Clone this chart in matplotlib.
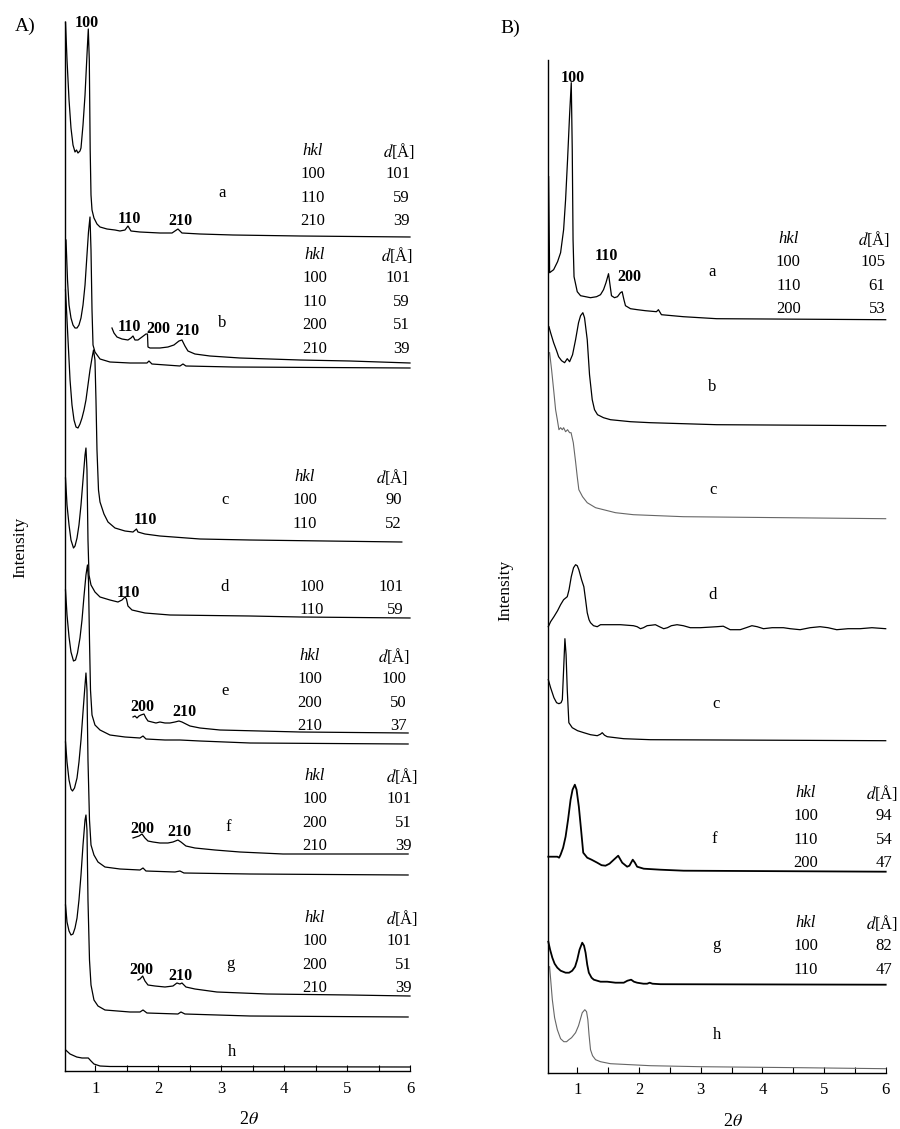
import matplotlib.pyplot as plt
from matplotlib.ticker import MultipleLocator

plt.rcParams['font.family'] = ['Liberation Serif', 'DejaVu Serif']
plt.rcParams['mathtext.fontset'] = 'stix'

# ---------------- Panel A : 2theta (deg) / intensity above baseline (a.u.)
tth_A_a = [0.528, 0.552, 0.584, 0.615, 0.647, 0.679, 0.703, 0.726, 0.758, 0.774, 0.806, 0.838,
           0.869, 0.89, 0.906, 0.92, 0.933, 0.949, 0.98, 1.028, 1.076, 1.187, 1.314, 1.393,
           1.473, 1.52, 1.568, 1.71, 2.028, 2.22, 2.314, 2.378, 2.664, 3.188, 4.252, 6.0]
int_A_a = [215, 177, 137, 109, 92, 85, 87, 84, 86, 89, 112, 142,
           182, 208, 177, 87, 42, 27, 19, 13, 10, 8, 7, 6,
           7, 11, 6, 5, 4, 4, 8, 4, 3, 2, 1, 0]

tth_A_b = [0.536, 0.56, 0.584, 0.615, 0.647, 0.679, 0.711, 0.742, 0.774, 0.806, 0.838, 0.869,
           0.893, 0.917, 0.933, 0.949, 0.965, 0.996, 1.076, 1.234, 1.552, 1.822, 1.854, 1.901,
           2.346, 2.394, 2.441, 3.188, 6.0]
int_A_b = [128, 88, 63, 50, 43, 40, 40, 43, 50, 63, 83, 113,
           136, 151, 118, 58, 23, 16, 9, 6, 5, 5, 7, 4,
           2, 4, 2, 1, 0]

# magnified high-angle part of b
tth_A_b2 = [1.266, 1.298, 1.346, 1.425, 1.52, 1.568, 1.6, 1.631, 1.679, 1.743, 1.806, 1.83,
            1.838, 1.87, 2.028, 2.155, 2.25, 2.33, 2.378, 2.425, 2.473, 2.584, 2.822, 3.299,
            4.252, 5.046, 6.0]
int_A_b2 = [35, 30, 26, 24, 23, 25, 27, 23, 23, 26, 29, 29,
            16, 15, 15, 16, 18, 22, 23, 17, 12, 9, 7, 5,
            3, 2, 0]

tth_A_c = [0.528, 0.552, 0.576, 0.6, 0.631, 0.663, 0.695, 0.726, 0.758, 0.79, 0.822, 0.853,
           0.885, 0.917, 0.949, 0.973, 0.996, 1.012, 1.028, 1.052, 1.076, 1.139, 1.203, 1.314,
           1.473, 1.6, 1.655, 1.679, 1.79, 2.028, 2.664, 3.458, 5.87]
int_A_c = [252, 222, 192, 162, 137, 122, 115, 114, 118, 124, 132, 142,
           157, 172, 184, 192, 182, 142, 92, 52, 40, 28, 20, 14,
           11, 10, 13, 10, 8, 6, 3, 2, 0]

tth_A_d = [0.528, 0.552, 0.584, 0.615, 0.655, 0.679, 0.711, 0.742, 0.774, 0.806, 0.838, 0.853,
           0.869, 0.885, 0.901, 0.933, 0.996, 1.076, 1.234, 1.361, 1.425, 1.473, 1.496, 1.52,
           1.584, 1.79, 2.187, 3.458, 4.252, 6.0]
int_A_d = [140, 113, 93, 78, 70, 72, 80, 93, 113, 138, 163, 170,
           148, 78, 43, 33, 26, 21, 18, 16, 18, 21, 19, 12,
           8, 5, 3, 2, 1, 0]

tth_A_e = [0.528, 0.552, 0.584, 0.615, 0.655, 0.687, 0.718, 0.758, 0.79, 0.822, 0.853, 0.877,
           0.893, 0.909, 0.925, 0.949, 0.996, 1.076, 1.234, 1.473, 1.711, 1.759, 1.806, 2.108,
           2.346, 2.664, 3.458, 5.97]
int_A_e = [154, 129, 107, 92, 83, 84, 91, 106, 124, 148, 169, 179,
           164, 104, 54, 29, 19, 14, 9, 7, 6, 8, 5, 4,
           4, 3, 1, 0]

tth_A_e2 = [1.6, 1.631, 1.663, 1.695, 1.727, 1.774, 1.806, 1.838, 1.901, 1.965, 2.028, 2.108,
            2.187, 2.267, 2.33, 2.378, 2.441, 2.505, 2.664, 2.981, 3.617, 4.252, 5.97]
int_A_e2 = [16, 17, 15, 17, 18, 19, 15, 12, 11, 10, 11, 10,
            10, 11, 12, 11, 9, 7, 5, 3, 2, 1, 0]

tth_A_f = [0.528, 0.552, 0.584, 0.615, 0.639, 0.671, 0.711, 0.742, 0.774, 0.806, 0.838, 0.853,
           0.869, 0.885, 0.909, 0.933, 0.98, 1.044, 1.155, 1.393, 1.711, 1.759, 1.806, 2.267,
           2.346, 2.409, 3.458, 5.97]
int_A_f = [133, 113, 95, 86, 84, 87, 97, 113, 135, 163, 190, 202,
           185, 115, 55, 30, 20, 13, 8, 6, 5, 7, 4, 3,
           4, 2, 1, 0]

tth_A_f2 = [1.6, 1.647, 1.695, 1.743, 1.79, 1.838, 1.917, 2.028, 2.155, 2.235, 2.314, 2.362,
            2.441, 2.584, 2.902, 3.299, 3.982, 5.97]
int_A_f2 = [16, 17, 18, 20, 16, 13, 12, 11, 11, 12, 14, 12,
            8, 6, 4, 2, 0, 0]

tth_A_g = [0.528, 0.552, 0.584, 0.615, 0.647, 0.679, 0.711, 0.742, 0.774, 0.806, 0.838, 0.853,
           0.869, 0.885, 0.909, 0.933, 0.98, 1.044, 1.155, 1.552, 1.711, 1.759, 1.822, 2.314,
           2.362, 2.425, 3.458, 5.97]
int_A_g = [112, 95, 86, 82, 83, 89, 99, 117, 142, 172, 197, 202,
           187, 117, 57, 32, 17, 11, 7, 5, 5, 7, 4, 3,
           5, 3, 1, 0]

tth_A_g2 = [1.679, 1.711, 1.754, 1.79, 1.838, 1.949, 2.108, 2.235, 2.298, 2.346, 2.378, 2.441,
            2.584, 2.933, 3.727, 5.046, 6.0]
int_A_g2 = [16, 17, 20, 15, 11, 10, 9, 10, 13, 12, 13, 9,
            7, 4, 2, 1, 0]

tth_A_h = [0.531, 0.6, 0.706, 0.79, 0.89, 0.933, 0.98, 1.076, 1.234, 6.0]
int_A_h = [17, 13, 10, 9, 9, 6, 3, 1, 0.5, 0]

# stacking offsets, panel A: a, b, b (x-mag), c, d, e, e (x-mag), f, f (x-mag), g, g (x-mag), h
offsets_A = [834, 703, 708, 529, 453, 327, 338, 196, 217, 54, 75, 4]

# ---------------- Panel B
tth_B_a = [0.535, 0.551, 0.616, 0.68, 0.729, 0.778, 0.81, 0.842, 0.875, 0.902, 0.918, 0.931,
           0.947, 0.999, 1.053, 1.134, 1.214, 1.312, 1.376, 1.425, 1.465, 1.506, 1.53, 1.554,
           1.603, 1.651, 1.7, 1.727, 1.756, 1.781, 1.862, 1.975, 2.104, 2.283, 2.315, 2.364,
           2.72, 3.26, 6.0]
int_B_a = [143, 47, 50, 58, 67, 90, 120, 160, 205, 237, 170, 80,
           43, 28, 24, 23, 22, 23, 25, 30, 37, 46, 35, 24,
           22, 23, 27, 28, 20, 14, 11, 10, 9, 8, 10, 5,
           3, 1, 0]

tth_B_b = [0.54, 0.567, 0.616, 0.664, 0.697, 0.745, 0.794, 0.837, 0.875, 0.923, 0.972, 1.02,
           1.053, 1.09, 1.117, 1.161, 1.198, 1.242, 1.279, 1.328, 1.425, 1.538, 1.862, 2.186,
           3.26, 6.0]
int_B_b = [99, 93, 83, 75, 69, 65, 63, 67, 64, 71, 86, 103,
           110, 113, 108, 86, 51, 26, 16, 11, 8, 6, 4, 3,
           1, 0]

tth_B_c = [0.551, 0.583, 0.621, 0.648, 0.676, 0.702, 0.729, 0.757, 0.778, 0.81, 0.842, 0.875,
           0.899, 0.935, 0.972, 0.999, 1.025, 1.085, 1.161, 1.296, 1.425, 1.619, 1.91, 2.719, 6.0]
int_B_c = [166, 149, 126, 109, 99, 89, 91, 89, 91, 87, 89, 86,
           86, 76, 57, 42, 29, 22, 16, 11, 9, 6, 4, 2, 0]

tth_B_d = [0.53, 0.567, 0.621, 0.68, 0.729, 0.778, 0.837, 0.866, 0.902, 0.939, 0.972, 0.999,
           1.025, 1.069, 1.106, 1.134, 1.161, 1.19, 1.214, 1.263, 1.323, 1.376, 1.425, 1.7,
           1.91, 1.97, 2.024, 2.072, 2.132, 2.202, 2.266, 2.331, 2.401, 2.461, 2.525, 2.617,
           2.719, 2.832, 2.994, 3.264, 3.366, 3.479, 3.641, 3.738, 3.831, 3.916, 4.018, 4.159,
           4.342, 4.451, 4.612, 4.774, 4.936, 5.065, 5.206, 5.389, 5.583, 5.777, 6.0]
int_B_d = [2, 7, 12, 18, 24, 29, 32, 39, 52, 61, 64, 63,
           59, 49, 42, 29, 16, 9, 6, 3, 2, 4, 4, 4,
           3, 2, 0, 1, 3, 3.5, 4, 2, 0, 1, 3, 4,
           3, 1, 1, 2, 2.5, -1, -1, 1, 3, 2, 0, 1,
           1, 0, -1, 1, 2, 1, -1, 0, 0, 1, 0]

tth_B_e = [0.53, 0.567, 0.621, 0.664, 0.702, 0.737, 0.757, 0.778, 0.799, 0.818, 0.837, 0.863,
           0.918, 1.004, 1.106, 1.214, 1.323, 1.376, 1.404, 1.441, 1.485, 1.619, 1.753, 2.185, 6.0]
int_B_e = [61, 53, 43, 38, 37, 38, 41, 71, 102, 86, 51, 18,
           13, 10, 8, 6, 5, 6.5, 8, 5.5, 4, 3, 2, 1, 0]

tth_B_f = [0.53, 0.6, 0.676, 0.705, 0.729, 0.77, 0.81, 0.85, 0.891, 0.923, 0.96, 0.988,
           1.025, 1.061, 1.096, 1.161, 1.231, 1.323, 1.393, 1.457, 1.522, 1.592, 1.663, 1.7,
           1.728, 1.808, 1.845, 1.899, 1.934, 1.97, 2.077, 2.347, 2.724, 6.0]
int_B_f = [15, 15, 15, 14, 17, 24, 35, 52, 72, 82, 87, 82,
           65, 42, 19, 14, 12, 9, 6.5, 6, 8, 12, 16, 12,
           9, 5, 6, 12, 9, 5, 3, 2, 1, 0]

tth_B_g = [0.53, 0.559, 0.595, 0.632, 0.676, 0.729, 0.81, 0.867, 0.918, 0.964, 0.999, 1.036,
           1.08, 1.109, 1.134, 1.161, 1.187, 1.231, 1.268, 1.376, 1.485, 1.619, 1.753, 1.813,
           1.873, 1.918, 1.97, 2.072, 2.132, 2.174, 2.218, 2.347, 6.0]
int_B_g = [43, 35, 27, 21, 17, 14, 12, 12, 14, 18, 25, 35,
           42, 39, 32, 20, 12, 7, 5, 3, 3, 2, 2, 4,
           5, 3, 2, 1, 1, 2, 1, 0.5, 0]

tth_B_h = [0.551, 0.575, 0.595, 0.632, 0.676, 0.729, 0.782, 0.826, 0.863, 0.907, 0.972, 1.02,
           1.08, 1.122, 1.15, 1.171, 1.19, 1.214, 1.247, 1.296, 1.376, 1.538, 1.862, 2.185,
           2.994, 4.612, 6.0]
int_B_h = [102, 84, 69, 51, 39, 30, 27, 27, 29, 31, 36, 43,
           56, 59, 57, 49, 34, 19, 13, 9, 7, 5, 4, 3,
           2, 1, 0]

offsets_B = [753, 647, 554, 444, 332, 201, 88, 4]

sample_labels_A = ['a', 'b', 'c', 'd', 'e', 'f', 'g', 'h']
sample_labels_B = ['a', 'b', 'c', 'd', 'c', 'f', 'g', 'h']

# reflection tables (hkl, d in Angstrom)
hkl_A_a, d_A_a = ['100', '110', '210'], [101, 59, 39]
hkl_A_b, d_A_b = ['100', '110', '200', '210'], [101, 59, 51, 39]
hkl_A_c, d_A_c = ['100', '110'], [90, 52]
hkl_A_d, d_A_d = ['100', '110'], [101, 59]
hkl_A_e, d_A_e = ['100', '200', '210'], [100, 50, 37]
hkl_A_f, d_A_f = ['100', '200', '210'], [101, 51, 39]
hkl_A_g, d_A_g = ['100', '200', '210'], [101, 51, 39]
hkl_B_a, d_B_a = ['100', '110', '200'], [105, 61, 53]
hkl_B_f, d_B_f = ['100', '110', '200'], [94, 54, 47]
hkl_B_g, d_B_g = ['100', '110'], [82, 47]

FS = 12
ROW = 23.4


def setup_axis(ax, ymax):
    ax.set_xlim(0.52, 6)
    ax.set_ylim(0, ymax)
    ax.spines['top'].set_visible(False)
    ax.spines['right'].set_visible(False)
    ax.spines['left'].set_linewidth(1.0)
    ax.spines['bottom'].set_linewidth(1.0)
    ax.set_yticks([])
    ax.xaxis.set_major_locator(MultipleLocator(1))
    ax.xaxis.set_minor_locator(MultipleLocator(0.5))
    ax.tick_params(axis='x', which='both', direction='in', length=4, width=0.8,
                   labelsize=FS, pad=7)
    ax.patch.set_alpha(0)


def table(ax, x_hkl, x_d, x_head, y_top, hkl, dvals, head=True):
    y = y_top
    if head:
        ax.text(x_hkl, y, 'hkl', style='italic', ha='center', va='center', fontsize=FS)
        ax.text(x_head, y, '$d$[Å]', ha='right', va='center', fontsize=FS)
        y -= ROW
    for h, v in zip(hkl, dvals):
        ax.text(x_hkl, y, h, ha='center', va='center', fontsize=FS)
        ax.text(x_d, y, str(v), ha='right', va='center', fontsize=FS)
        y -= ROW


def peak(ax, x, y, s):
    ax.text(x, y, s, ha='center', va='center', fontsize=11.5, fontweight='bold')


fig = plt.figure(figsize=(9, 11.29), dpi=100)
axA = fig.add_axes([65 / 900, 58 / 1129, 345 / 900, 1049 / 1129])
axB = fig.add_axes([547.7 / 900, 56.3 / 1129, 338 / 900, 1012.7 / 1129])
setup_axis(axA, 1049)
setup_axis(axB, 1012.7)

# ---- panel A traces
traces_A = [(tth_A_a, int_A_a), (tth_A_b, int_A_b), (tth_A_b2, int_A_b2), (tth_A_c, int_A_c),
            (tth_A_d, int_A_d), (tth_A_e, int_A_e), (tth_A_e2, int_A_e2), (tth_A_f, int_A_f),
            (tth_A_f2, int_A_f2), (tth_A_g, int_A_g), (tth_A_g2, int_A_g2), (tth_A_h, int_A_h)]
for (x, y), off in zip(traces_A, offsets_A):
    axA.plot(x, [v + off for v in y], color='black', lw=0.9, clip_on=False)

# ---- panel B traces
traces_B = [(tth_B_a, int_B_a), (tth_B_b, int_B_b), (tth_B_c, int_B_c), (tth_B_d, int_B_d),
            (tth_B_e, int_B_e), (tth_B_f, int_B_f), (tth_B_g, int_B_g), (tth_B_h, int_B_h)]
styles_B = [('black', 0.9), ('black', 0.9), ('#666666', 0.8), ('black', 0.9),
            ('black', 0.9), ('black', 1.3), ('black', 1.3), ('#666666', 0.8)]
for (x, y), off, (c, lw) in zip(traces_B, offsets_B, styles_B):
    axB.plot(x, [v + off for v in y], color=c, lw=lw, clip_on=False)

# ---- panel A annotations
lab_pos_A = [(3.01, 878), (3.01, 748), (3.06, 571), (3.06, 484),
             (3.07, 380), (3.11, 244), (3.14, 107), (3.17, 19)]
for s, (x, y) in zip(sample_labels_A, lab_pos_A):
    axA.text(x, y, s, ha='center', va='center', fontsize=FS)

peak(axA, 0.86, 1048, '100')
peak(axA, 1.55, 852, '110')
peak(axA, 2.35, 850, '210')
peak(axA, 1.55, 744, '110')
peak(axA, 2.0, 742, '200')
peak(axA, 2.46, 740, '210')
peak(axA, 1.79, 551, '110')
peak(axA, 1.52, 478, '110')
peak(axA, 1.75, 364, '200')
peak(axA, 2.41, 359, '210')
peak(axA, 1.75, 242, '200')
peak(axA, 2.33, 239, '210')
peak(axA, 1.74, 101, '200')
peak(axA, 2.35, 95, '210')

table(axA, 4.46, 6.0, 6.08, 920, hkl_A_a, d_A_a)
table(axA, 4.49, 6.0, 6.05, 816, hkl_A_b, d_A_b)
table(axA, 4.33, 5.87, 5.97, 594, hkl_A_c, d_A_c)
table(axA, 4.44, 5.89, 5.97, 484, hkl_A_d, d_A_d, head=False)
table(axA, 4.41, 5.95, 6.0, 415, hkl_A_e, d_A_e)
table(axA, 4.49, 6.02, 6.13, 295, hkl_A_f, d_A_f)
table(axA, 4.49, 6.03, 6.13, 153, hkl_A_g, d_A_g)

# ---- panel B annotations
lab_pos_B = [(3.18, 801), (3.19, 686), (3.2, 583), (3.2, 478),
             (3.25, 369), (3.22, 234), (3.25, 128), (3.27, 38)]
for s, (x, y) in zip(sample_labels_B, lab_pos_B):
    axB.text(x, y, s, ha='center', va='center', fontsize=FS)

peak(axB, 0.92, 995, '100')
peak(axB, 1.47, 817, '110')
peak(axB, 1.85, 796, '200')

table(axB, 4.42, 5.99, 6.07, 834, hkl_B_a, d_B_a)
table(axB, 4.7, 6.11, 6.2, 280, hkl_B_f, d_B_f)
table(axB, 4.7, 6.11, 6.2, 150, hkl_B_g, d_B_g)

# ---- axis titles and panel letters
fig.text(20 / 900, 1 - 547 / 1129, 'Intensity', rotation=90, ha='center', va='center', fontsize=12.5)
fig.text(505 / 900, 1 - 590 / 1129, 'Intensity', rotation=90, ha='center', va='center', fontsize=12.5)
fig.text(249 / 900, 1 - 1120 / 1129, r'2$\theta$', ha='center', va='center', fontsize=13)
fig.text(733 / 900, 1 - 1122 / 1129, r'2$\theta$', ha='center', va='center', fontsize=13)
fig.text(25 / 900, 1 - 26 / 1129, 'A)', ha='center', va='center', fontsize=14)
fig.text(510 / 900, 1 - 28 / 1129, 'B)', ha='center', va='center', fontsize=14)

fig.savefig('out.png', dpi=100)
